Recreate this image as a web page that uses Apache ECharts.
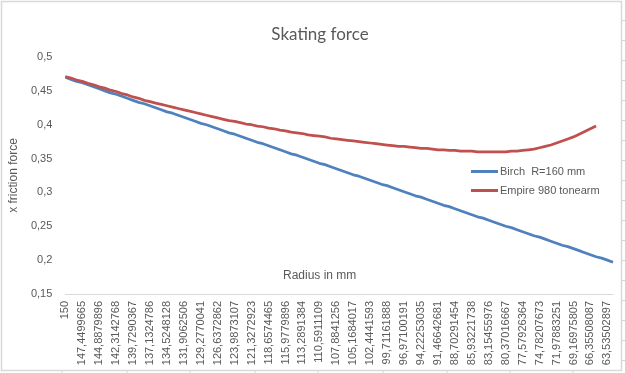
<!DOCTYPE html>
<html>
<head>
<meta charset="utf-8">
<script src="https://cdn.jsdelivr.net/npm/echarts@6/dist/echarts.min.js"></script>
<style>html,body{margin:0;padding:0;background:#fff;}#c{width:625px;height:373px;}</style>
</head>
<body>
<div id="c"></div>
<script>
const tickLabels = ['150','147,4499665','144,8879896','142,3142768','139,7290367','137,1324786','134,5248128','131,9062506','129,2770041','126,6372862','123,9873107','121,3272923','118,6574465','115,9779896','113,2891384','110,5911109','107,8841256','105,1684017','102,4441593','99,71161888','96,97100191','94,22253035','91,46642681','88,70291454','85,93221738','83,15455976','80,37016667','77,57926364','74,78207673','71,97883251','69,16975805','66,35508087','63,53502897'];

const birch = [0.470,0.467,0.464,0.462,0.459,0.456,0.453,0.450,0.447,0.445,0.442,0.439,0.436,0.433,0.431,0.428,0.425,0.422,0.419,0.417,0.414,0.411,0.408,0.405,0.402,0.400,0.397,0.394,0.391,0.388,0.386,0.383,0.380,0.377,0.374,0.372,0.369,0.366,0.363,0.360,0.357,0.355,0.352,0.349,0.346,0.343,0.341,0.338,0.335,0.332,0.329,0.326,0.324,0.321,0.318,0.315,0.312,0.310,0.307,0.304,0.301,0.298,0.295,0.293,0.290,0.287,0.284,0.281,0.279,0.276,0.273,0.270,0.267,0.264,0.262,0.259,0.256,0.253,0.250,0.248,0.245,0.242,0.239,0.236,0.234,0.231,0.228,0.225,0.222,0.220,0.217,0.214,0.211,0.208,0.205,0.203,0.200,0.197];

const empire = [0.471,0.469,0.466,0.464,0.461,0.459,0.456,0.454,0.451,0.449,0.446,0.444,0.441,0.439,0.436,0.434,0.432,0.430,0.428,0.426,0.424,0.422,0.420,0.418,0.416,0.414,0.412,0.410,0.408,0.406,0.405,0.403,0.401,0.400,0.398,0.397,0.395,0.394,0.392,0.391,0.389,0.388,0.387,0.385,0.384,0.383,0.382,0.380,0.379,0.378,0.377,0.376,0.375,0.374,0.373,0.372,0.371,0.370,0.369,0.368,0.368,0.367,0.366,0.365,0.365,0.364,0.363,0.363,0.362,0.362,0.361,0.361,0.361,0.360,0.360,0.360,0.360,0.360,0.360,0.361,0.361,0.362,0.363,0.364,0.366,0.368,0.370,0.373,0.376,0.379,0.382,0.386,0.390,0.394,0.398];

const seriesNames = ['Birch  R=160 mm', 'Empire 980 tonearm'];

// category axis: every third radius is labelled; the two in between are unlabelled
const categories = [];
tickLabels.forEach((t, i) => {
  categories.push(t);
  if (i < tickLabels.length - 1) { categories.push(''); categories.push(''); }
});
categories.push('');

const chart = echarts.init(document.getElementById('c'), null, {renderer: 'canvas'});
const txt = '#595959';
const font = 'Liberation Sans';
const cellLines = [];
[62,127,190,255,318,383,447,510,573].forEach(x => cellLines.push({type:'line', shape:{x1:x,y1:371,x2:x,y2:373}, style:{stroke:'#d4d4d4', lineWidth:1}, silent:true}));
[20,40,60,80,100,120,140,160,180,200,220,240,260,280,300,320,340,360].forEach(y => cellLines.push({type:'line', shape:{x1:622,y1:y+0.5,x2:625,y2:y+0.5}, style:{stroke:'#d4d4d4', lineWidth:1}, silent:true}));

chart.setOption({
  animation: false,
  backgroundColor: '#ffffff',
  title: {
    text: 'Skating force',
    left: 315, top: 21, textAlign: 'center',
    textStyle: {color: txt, fontSize: 17, fontWeight: 'normal', fontFamily: 'Lato'}
  },
  legend: {
    orient: 'vertical',
    left: 466, top: 161,
    itemWidth: 27, itemHeight: 3, itemGap: 8,
    icon: 'rect',
    textStyle: {color: txt, fontSize: 11, fontFamily: font, padding: [0,0,0,-3]},
    data: seriesNames
  },
  grid: {left: 60, right: 12, top: 57, bottom: 79, containLabel: false},
  xAxis: {
    type: 'category',
    data: categories,
    boundaryGap: false,
    axisLine: {lineStyle: {color: '#d9d9d9', width: 1}},
    axisTick: {show: false},
    axisLabel: {interval: 0, rotate: 90, color: txt, fontSize: 11, fontFamily: font, margin: 7},
    splitLine: {show: false}
  },
  yAxis: {
    type: 'value',
    min: 0.15, max: 0.5, interval: 0.05,
    name: 'x friction force',
    nameLocation: 'middle', nameGap: 43,
    nameTextStyle: {color: txt, fontSize: 12, fontFamily: font},
    axisLine: {show: false},
    axisTick: {show: false},
    splitLine: {show: false},
    axisLabel: {
      color: txt, fontSize: 11, fontFamily: font, margin: 13,
      formatter: v => String(Math.round(v * 100) / 100).replace('.', ',')
    }
  },
  graphic: [
    {type:'rect', shape:{x:1.5,y:1.5,width:620,height:369}, style:{fill:'none', stroke:'#d9d9d9', lineWidth:1.5}, silent:true},
    {type:'text', left: 283, top: 270, style:{text:'Radius in mm', fill: txt, font: '12px "Liberation Sans"'}, silent:true}
  ].concat(cellLines),
  series: [
    {name: seriesNames[0], type: 'line', data: birch, symbol: 'none', lineStyle: {color: '#4f81bd', width: 2.75}, itemStyle: {color: '#4f81bd'}},
    {name: seriesNames[1], type: 'line', data: empire, symbol: 'none', lineStyle: {color: '#c0504d', width: 2.75}, itemStyle: {color: '#c0504d'}}
  ]
});
</script>
</body>
</html>
